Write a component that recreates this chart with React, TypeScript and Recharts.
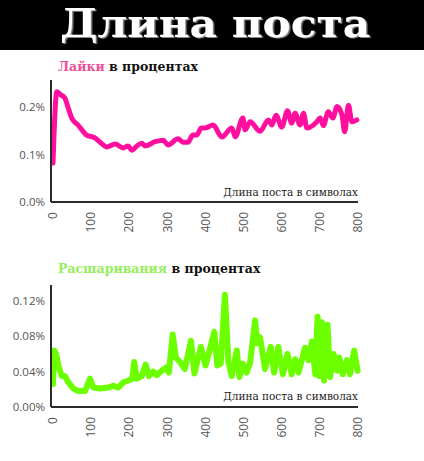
import React from "react";
import { Line, LineChart, XAxis, YAxis } from "recharts";

const xTicks = [0, 100, 200, 300, 400, 500, 600, 700, 800];

const likesLength = [
  0, 10, 20, 31, 40, 49, 66, 88, 110, 125, 141, 163, 184, 197, 207, 220, 233,
  241, 268, 289, 302, 328, 341, 354, 367, 377, 389, 399, 420, 443, 469, 478,
  498, 504, 517, 543, 565, 574, 585, 600, 615, 626, 635, 648, 657, 666, 683,
  692, 701, 709, 722, 734, 745, 758, 765, 775, 784, 797,
];
const likesPct = [
  0.082, 0.232, 0.226, 0.219, 0.198, 0.177, 0.162, 0.141, 0.135, 0.125, 0.116,
  0.122, 0.114, 0.118, 0.109, 0.118, 0.124, 0.118, 0.127, 0.13, 0.12, 0.133,
  0.126, 0.126, 0.141, 0.141, 0.156, 0.156, 0.162, 0.137, 0.156, 0.137, 0.177,
  0.152, 0.169, 0.149, 0.173, 0.162, 0.183, 0.158, 0.192, 0.166, 0.187, 0.162,
  0.187, 0.156, 0.162, 0.169, 0.177, 0.161, 0.19, 0.177, 0.201, 0.183, 0.148,
  0.204, 0.169, 0.173,
];
const likesTicks = [0, 0.1, 0.2];

const sharesLength = [
  0, 3, 8, 14, 23, 31, 40, 53, 66, 84, 97, 106, 123, 145, 158, 171, 185, 198,
  208, 213, 220, 233, 243, 252, 263, 272, 285, 298, 304, 314, 322, 333, 346,
  362, 371, 388, 400, 412, 423, 431, 440, 451, 460, 469, 482, 489, 498, 508,
  517, 530, 536, 543, 556, 571, 580, 591, 603, 615, 626, 635, 644, 661, 670,
  679, 688, 694, 699, 705, 711, 720, 727, 736, 745, 751, 760, 771, 779, 790,
  799,
];
const sharesPct = [
  0.026, 0.064, 0.06, 0.047, 0.035, 0.035, 0.028, 0.021, 0.018, 0.018, 0.032,
  0.022, 0.021, 0.022, 0.024, 0.022, 0.028, 0.03, 0.032, 0.051, 0.032, 0.035,
  0.048, 0.035, 0.04, 0.036, 0.041, 0.045, 0.039, 0.082, 0.056, 0.051, 0.043,
  0.075, 0.038, 0.068, 0.047, 0.066, 0.085, 0.047, 0.049, 0.127, 0.051, 0.035,
  0.064, 0.034, 0.049, 0.039, 0.05, 0.098, 0.072, 0.079, 0.043, 0.068, 0.039,
  0.068, 0.037, 0.06, 0.037, 0.054, 0.039, 0.067, 0.053, 0.074, 0.037, 0.102,
  0.035, 0.096, 0.03, 0.093, 0.034, 0.06, 0.041, 0.056, 0.037, 0.053, 0.037,
  0.064, 0.041,
];
const sharesTicks = [0, 0.04, 0.08, 0.12];

const likesData = likesLength.map((len, i) => ({ len, value: likesPct[i] }));
const sharesData = sharesLength.map((len, i) => ({ len, value: sharesPct[i] }));

const AXIS = "#2b2b2b";
const TICK = "#555555";
const SANS = "'Open Sans', sans-serif";
const SERIF = "'DejaVu Serif', serif";

function RotatedTick({ x, y, payload }: any) {
  return (
    <text
      x={x}
      y={y}
      transform={`rotate(-90, ${x}, ${y})`}
      textAnchor="end"
      dy="0.35em"
      fill={TICK}
      fontSize={12}
      fontFamily={SANS}
    >
      {payload.value}
    </text>
  );
}

function Panel({
  data,
  color,
  width,
  ticks,
  domain,
  digits,
  curve,
}: {
  data: { len: number; value: number }[];
  color: string;
  width: number;
  ticks: number[];
  domain: [number, number];
  digits: number;
  curve: "linear" | "monotone";
}) {
  return (
    <LineChart
      width={370}
      height={172}
      data={data}
      margin={{ top: 20, right: 12, bottom: 0, left: 0 }}
    >
      <XAxis
        dataKey="len"
        type="number"
        domain={[0, 800]}
        ticks={xTicks}
        padding={{ left: 2 }}
        height={30}
        tickSize={0}
        tickMargin={10}
        tickLine={false}
        axisLine={{ stroke: AXIS, strokeWidth: 2 }}
        tick={<RotatedTick />}
        interval={0}
      />
      <YAxis
        type="number"
        domain={domain}
        ticks={ticks}
        width={51}
        tickSize={0}
        tickMargin={6}
        tickLine={false}
        axisLine={{ stroke: AXIS, strokeWidth: 2 }}
        tick={{ fill: TICK, fontSize: 11.5, fontFamily: SANS }}
        tickFormatter={(v: number) => v.toFixed(digits) + "%"}
        allowDataOverflow
      />
      <Line
        type={curve}
        dataKey="value"
        stroke={color}
        strokeWidth={width}
        strokeLinejoin="round"
        strokeLinecap="round"
        dot={false}
        isAnimationActive={false}
      />
    </LineChart>
  );
}

const titleStyle: React.CSSProperties = {
  position: "absolute",
  left: 58,
  fontFamily: SERIF,
  fontWeight: "bold",
  fontSize: 12.5,
  color: "#111",
  whiteSpace: "nowrap",
};

const axisTitleStyle: React.CSSProperties = {
  position: "absolute",
  right: 424 - 358,
  fontFamily: SERIF,
  fontSize: 10.5,
  color: "#222",
  whiteSpace: "nowrap",
};

export default function App() {
  return (
    <div
      style={{
        position: "absolute",
        left: 0,
        top: 0,
        width: 424,
        height: 461,
        background: "#fff",
        overflow: "hidden",
      }}
    >
      <svg width={424} height={50} style={{ position: "absolute", left: 0, top: 0 }}>
        <defs>
          <filter id="shade" x="-5%" y="-20%" width="110%" height="140%">
            <feDropShadow dx={1.5} dy={1} stdDeviation={0.4} floodColor="#8a8a8a" />
          </filter>
        </defs>
        <rect x={0} y={0} width={424} height={50} fill="#000" />
        <text
          x={60}
          y={37}
          fontFamily={SERIF}
          fontWeight="bold"
          fontSize={40}
          fill="#fff"
          textLength={310}
          lengthAdjust="spacingAndGlyphs"
          filter="url(#shade)"
        >
          Длина поста
        </text>
      </svg>

      <div style={{ ...titleStyle, top: 59 }}>
        <span style={{ color: "#ee4f9c" }}>Лайки</span> в процентах
      </div>
      <div style={{ position: "absolute", left: 0, top: 60 }}>
        <Panel
          data={likesData}
          color="#ff0f9e"
          width={5}
          ticks={likesTicks}
          domain={[0, 0.257]}
          digits={1}
          curve="monotone"
        />
      </div>
      <div style={{ ...axisTitleStyle, top: 186 }}>Длина поста в символах</div>

      <div style={{ ...titleStyle, top: 261 }}>
        <span style={{ color: "#96ee5a" }}>Расшаривания</span> в процентах
      </div>
      <div style={{ position: "absolute", left: 0, top: 265 }}>
        <Panel
          data={sharesData}
          color="#6cff00"
          width={6}
          ticks={sharesTicks}
          domain={[0, 0.138]}
          digits={2}
          curve="linear"
        />
      </div>
      <div style={{ ...axisTitleStyle, top: 390 }}>Длина поста в символах</div>
    </div>
  );
}
